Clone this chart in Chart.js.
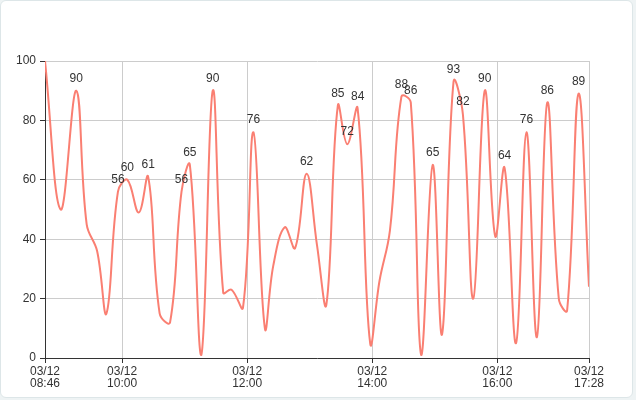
<!DOCTYPE html>
<html>
<head>
<meta charset="utf-8">
<script src="https://cdn.jsdelivr.net/npm/chart.js@4"></script>
<style>
  html, body { margin: 0; padding: 0; background: #eef3f4; }
  body { position: relative; width: 636px; height: 400px; overflow: hidden; }
  .card { position: absolute; left: 0; top: 0; width: 631px; height: 396px;
          background: #fff; border: 1px solid #dde6e8; border-radius: 6px; }
  #line-chart { position: absolute; left: 0; top: 0; }
</style>
</head>
<body>
<div class="card"></div>
<canvas id="line-chart" width="636" height="400"></canvas>
<script>
const day = '03/12';
const times = ['08:46','09:01','09:16','09:26','09:36','09:45','09:56','10:05','10:16','10:25',
    '10:36','10:46','10:57','11:05','11:16','11:27','11:37','11:45','11:56','12:06',
    '12:17','12:25','12:36','12:46','12:57','13:07','13:16','13:27','13:36','13:46',
    '13:58','14:07','14:17','14:28','14:37','14:47','14:58','15:07','15:18','15:27',
    '15:37','15:48','15:58','16:07','16:18','16:28','16:38','16:48','16:59','17:07',
    '17:18','17:28'];
const values = [100,50,90,45,36,15,56,60,49,61,
    15,12,56,65,1,90,22,23,17,76,
    10,31,44,37,62,38,18,85,72,84,
    5,26,43,88,86,1,65,8,93,82,
    20,90,41,64,5,76,7,86,20,16,
    89,24];
const xTicks = ['08:46','10:00','12:00','14:00','16:00','17:28'];
const yTicks = [0, 20, 40, 60, 80, 100];

const toMin = t => { const p = t.split(':'); return +p[0] * 60 + +p[1]; };
const pad = n => String(n).padStart(2, '0');
const fmt = m => pad(Math.floor(m / 60)) + ':' + pad(m % 60);

const font = '"Liberation Sans", Arial, sans-serif';

// draws the value above the higher points
const valueLabels = {
    id: 'valueLabels',
    afterDatasetsDraw(chart) {
        const ctx = chart.ctx;
        const meta = chart.getDatasetMeta(0);
        ctx.save();
        ctx.font = '12px ' + font;
        ctx.fillStyle = '#333';
        ctx.textAlign = 'center';
        ctx.textBaseline = 'alphabetic';
        meta.data.forEach((pt, i) => {
            if (i === 0 || values[i] < 55) return;
            ctx.fillText(values[i], pt.x, pt.y - 9);
        });
        ctx.restore();
    }
};

const ctx = document.getElementById('line-chart');
new Chart(ctx, {
    type: 'line',
    data: {
        datasets: [
            {
                data: times.map((t, i) => ({ x: toMin(t), y: values[i] })),
                borderColor: '#fa7f72',
                borderWidth: 2,
                pointRadius: 0,
                tension: 0.4,
                fill: false
            }
        ]
    },
    options: {
        responsive: false,
        animation: false,
        layout: { padding: { top: 61, right: 47, left: 0, bottom: 0 } },
        plugins: { legend: { display: false }, tooltip: { enabled: false } },
        scales: {
            x: {
                type: 'linear',
                min: toMin(xTicks[0]),
                max: toMin(xTicks[xTicks.length - 1]),
                afterBuildTicks: s => { s.ticks = xTicks.map(t => ({ value: toMin(t) })); },
                afterFit: s => { s.height = 42; },
                grid: { color: '#ccc', tickColor: '#333', tickLength: 5 },
                border: { color: '#333', width: 1 },
                ticks: {
                    autoSkip: false,
                    maxRotation: 0,
                    padding: 2,
                    color: '#333',
                    font: { family: font, size: 12, lineHeight: 1.05 },
                    callback: v => [day, fmt(v)]
                }
            },
            y: {
                min: 0,
                max: 100,
                afterBuildTicks: s => { s.ticks = yTicks.map(v => ({ value: v })); },
                afterFit: s => { s.width = 45; },
                grid: { color: '#ccc', tickColor: '#333', tickLength: 5 },
                border: { color: '#333', width: 1 },
                ticks: {
                    padding: 4,
                    color: '#333',
                    font: { family: font, size: 12 }
                }
            }
        }
    },
    plugins: [valueLabels]
});
</script>
</body>
</html>
